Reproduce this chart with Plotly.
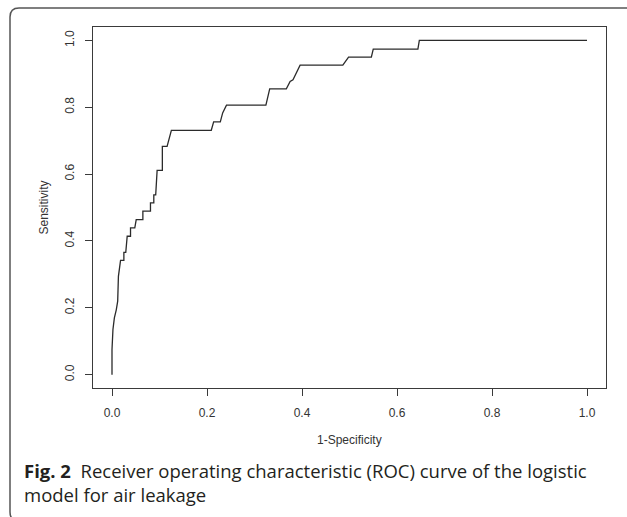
import plotly.graph_objects as go

# ROC curve points
fpr = [0.000, 0.000, 0.002, 0.005, 0.009, 0.012, 0.0135, 0.016, 0.018, 0.025, 0.025, 0.029,
       0.032, 0.039, 0.039, 0.048, 0.051, 0.065, 0.065, 0.081, 0.081, 0.088, 0.088, 0.092,
       0.095, 0.106, 0.106, 0.116, 0.120, 0.125, 0.209, 0.214, 0.228, 0.233, 0.241, 0.324,
       0.332, 0.367, 0.375, 0.381, 0.396, 0.486, 0.498, 0.546, 0.550, 0.644, 0.647, 1.000]
tpr = [0.000, 0.075, 0.135, 0.170, 0.194, 0.220, 0.294, 0.320, 0.342, 0.342, 0.366, 0.366,
       0.414, 0.414, 0.439, 0.439, 0.464, 0.464, 0.489, 0.489, 0.514, 0.514, 0.538, 0.538,
       0.611, 0.611, 0.683, 0.683, 0.708, 0.731, 0.731, 0.756, 0.756, 0.783, 0.806, 0.806,
       0.855, 0.855, 0.877, 0.882, 0.926, 0.926, 0.950, 0.950, 0.974, 0.974, 1.000, 1.000]

tick_vals = [0.0, 0.2, 0.4, 0.6, 0.8, 1.0]
tick_text = ["0.0", "0.2", "0.4", "0.6", "0.8", "1.0"]

x_title = "1-Specificity"
y_title = "Sensitivity"
caption_bold = "Fig. 2"
caption_line1 = "Receiver operating characteristic (ROC) curve of the logistic"
caption_line2 = "model for air leakage"

W, H = 627, 517
L, R, T, B = 93, 606, 27, 388


def px(xp):
    return (xp - L) / (R - L)


def py(yp):
    return (B - yp) / (B - T)


fig = go.Figure()
fig.add_trace(go.Scatter(x=fpr, y=tpr, mode="lines",
                         line=dict(color="#2b2b2b", width=1.3),
                         hoverinfo="skip", showlegend=False))

axis_common = dict(
    showgrid=False, zeroline=False, showline=True, mirror=True,
    linecolor="#3a3a3a", linewidth=1.2,
    ticks="outside", ticklen=7, tickwidth=1.2, tickcolor="#3a3a3a",
    tickvals=tick_vals, ticktext=tick_text,
    tickfont=dict(family="Liberation Sans, Arial", size=12, color="#333333"),
)

fig.update_layout(
    width=W, height=H,
    margin=dict(l=L, r=W - R, t=T, b=H - B),
    paper_bgcolor="white", plot_bgcolor="white",
    xaxis=dict(range=[-0.04, 1.04], ticklabelstandoff=6, **axis_common),
    yaxis=dict(range=[-0.04, 1.04], tickangle=-90, ticklabelstandoff=6, **axis_common),
    showlegend=False,
)

annotations = [
    dict(text=y_title, x=px(43), y=py(207.5), xref="paper", yref="paper",
         textangle=-90, showarrow=False, xanchor="center", yanchor="middle",
         font=dict(family="Liberation Sans, Arial", size=12, color="#333333")),
    dict(text=x_title, x=px(349), y=py(440), xref="paper", yref="paper",
         showarrow=False, xanchor="center", yanchor="middle",
         font=dict(family="Liberation Sans, Arial", size=12, color="#333333")),
    dict(text="<b>" + caption_bold + "</b>  " + caption_line1 + "<br>" + caption_line2,
         x=px(22), y=py(456), xref="paper", yref="paper", align="left",
         showarrow=False, xanchor="left", yanchor="top",
         font=dict(family="Open Sans", size=18.5, color="#231f20")),
]
fig.update_layout(annotations=annotations)

# rounded frame (left corners), cropped on the right and bottom
r = 9
bottom = 521
path = "M {},{} L {},{} ".format(px(W + 5), py(8), px(10 + r), py(8))
path += "Q {},{} {},{} ".format(px(10), py(8), px(10), py(8 + r))
path += "L {},{} ".format(px(10), py(bottom - r))
path += "Q {},{} {},{} ".format(px(10), py(bottom), px(10 + r), py(bottom))
path += "L {},{}".format(px(W + 5), py(bottom))
fig.add_shape(type="path", path=path, xref="paper", yref="paper",
              line=dict(color="#555555", width=1.5), layer="below")

fig.write_html("out.html", config={"displayModeBar": False},
               post_script="document.body.style.margin='0';document.body.style.padding='0';")
